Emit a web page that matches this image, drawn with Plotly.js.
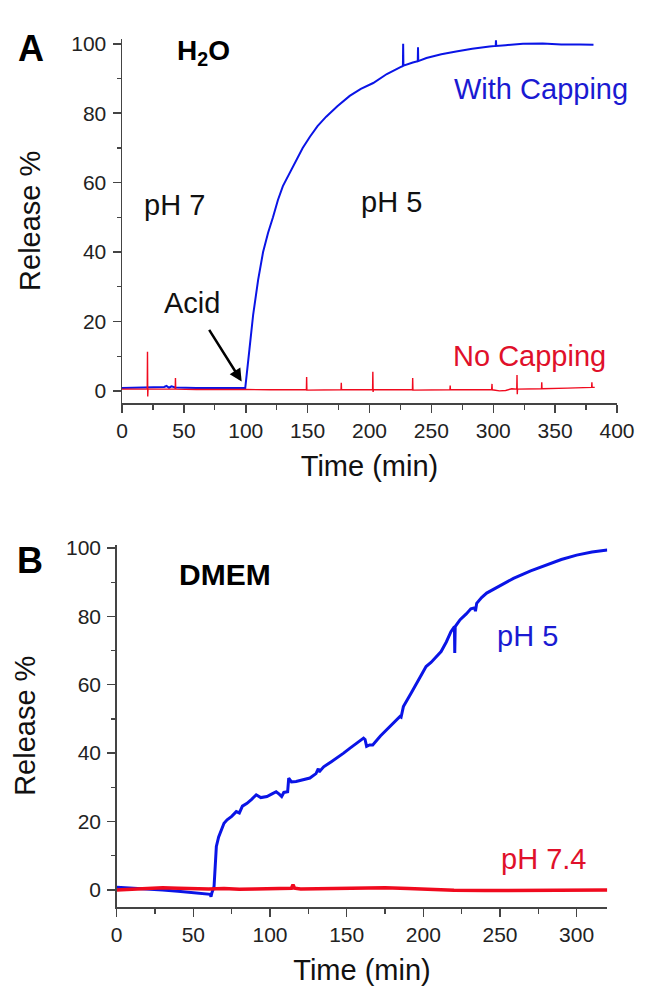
<!DOCTYPE html>
<html>
<head>
<meta charset="utf-8">
<script src="https://cdn.plot.ly/plotly-3.0.1.min.js"></script>
<style>html,body{margin:0;padding:0;background:#fff;}#chart{width:650px;height:1002px;}</style>
</head>
<body>
<div id="chart"></div>
<script>
// ---------- Panel A (H2O) ----------
var timeA_with = [0,10,20,34,36,38,40,43,60,80,99,99.5,101,103,106,110,114,118,122,126,130,135,141,146,152,158,165,174,184,193,203,214,225,227,227.2,227.4,235,239,239.2,239.4,246,258,270,283,297,302,302.2,302.4,310,324,340,355,370,381];
var releaseA_with = [0.8,0.9,0.8,1.1,1.4,0.9,1.3,1.0,0.8,0.9,0.8,0.5,5,12,22,32,40,45.5,50,55,59,62.5,66.5,70,73.3,76.3,79,82,85,87,88.7,91.3,93.3,93.6,100,93.7,94.6,95,99,95,95.9,97,97.8,98.6,99.2,99.4,101,99.4,99.6,100,100.1,99.8,99.8,99.7];

var timeA_no = [0,10,20.4,20.6,20.8,21,30,43,43.2,43.4,60,80,100,120,149,149.2,149.4,177,177.2,177.4,202.5,202.7,202.9,203.1,234.7,234.9,235.1,265,265.2,265.4,298.7,299,299.2,305,310,315,319,319.2,319.4,319.6,339,339.2,339.4,360,375,379.5,379.7,379.9,382];
var releaseA_no = [0.5,0.5,0.5,11.3,-1.6,0.5,0.5,0.5,3.7,0.5,0.4,0.5,0.4,0.3,0.3,4,0.2,0.3,2.3,0.3,0.3,5.5,-0.3,0.3,0.3,3.7,0.2,0.3,1.5,0.3,0.3,2,0.3,0,0.1,0.6,0.5,4.6,-1,0.5,0.6,2.5,0.6,0.8,1.1,1.0,2.5,1.0,1.0];

// ---------- Panel B (DMEM) ----------
var timeB_pH5 = [0,10,20,30,40,50,58,61,61.5,62,63.5,64.5,65,66.5,68,70,72,75,78,80,82,85,88,91,94,98,101,104,106,107.6,109,111.5,112.2,114,117,122,126,130,131.5,132,135,140,143.5,148,152,157,161,162,163,165,167,172,178,184.8,185.5,187,192,197,201.8,205,208,211.6,215,218,220.3,220.5,220.8,224,228,231,233.5,234,234.8,238,241.3,250,258.8,270,280.5,290,300,310,320];
var releaseB_pH5 = [0.8,0.6,0.3,0,-0.4,-0.8,-1.1,-1.3,-2,-1,1,8,12.7,15.5,17.5,19.5,20.5,21.5,22.9,22.5,24.5,25.3,26.5,27.8,27,27.3,28,28.7,28,27.3,28.5,28.7,32.7,31.6,31.7,32.2,32.7,34,35.5,34.5,36,37.5,38.5,40,41.4,43,44.4,44,42,42.4,42.4,45,47.7,50.7,50.5,53.6,57.5,61.5,65.3,66.5,68,69.7,72.5,75.5,77,69.3,77,79,80.7,82.2,82.5,81.5,83.8,85.5,86.8,89,91.1,93.3,95,96.6,97.9,98.8,99.4];

var timeB_pH74 = [0,10,20,30,40,50,60,70,80,90,100,110,114,115,116,120,140,160,175,190,200,220,240,260,280,300,320];
var releaseB_pH74 = [0,0.2,0.3,0.6,0.5,0.3,0.3,0.4,0.2,0.3,0.4,0.3,0.5,1.5,0.5,0.3,0.4,0.3,0.6,0.4,0.2,-0.1,-0.2,-0.1,0,0,0];

var ticksA_x = [0,50,100,150,200,250,300,350,400];
var ticksB_x = [0,50,100,150,200,250,300];
var ticksY = [0,20,40,60,80,100];

// ---------- style ----------
var W = 650, H = 1002;
function px(x){return x/W;}
function py(y){return 1 - y/H;}
var FONT = 'Liberation Sans, Arial, sans-serif';
var BLUE = '#0a14e6', RED = '#f00a1e';

var traces = [
  {x: timeA_with, y: releaseA_with, xaxis:'x', yaxis:'y', mode:'lines', line:{color:BLUE, width:2}, hoverinfo:'skip'},
  {x: timeA_no, y: releaseA_no, xaxis:'x', yaxis:'y', mode:'lines', line:{color:RED, width:1.4}, hoverinfo:'skip'},
  {x: timeB_pH5, y: releaseB_pH5, xaxis:'x2', yaxis:'y2', mode:'lines', line:{color:BLUE, width:3}, hoverinfo:'skip'},
  {x: timeB_pH74, y: releaseB_pH74, xaxis:'x2', yaxis:'y2', mode:'lines', line:{color:RED, width:3.5}, hoverinfo:'skip'}
];

function xax(domain, range, ticks, anchor){
  return {domain: domain, range: range, anchor: anchor, tickvals: ticks, ticks:'outside', ticklen:8, tickwidth:1.5, tickcolor:'#444',
    showline:true, linecolor:'#444', linewidth:1.5, showgrid:false, zeroline:false,
    minor:{ticks:'outside', ticklen:5, tickwidth:1.2, tickcolor:'#444', dtick:25, showgrid:false},
    tickfont:{family:FONT, size:21, color:'#222'},
    title:{text:'Time (min)', font:{family:FONT, size:29, color:'#111'}, standoff:15}};
}
function yax(domain, range, anchor){
  return {domain: domain, range: range, anchor: anchor, tickvals: ticksY, ticks:'outside', ticklen:8, tickwidth:1.5, tickcolor:'#444',
    showline:true, linecolor:'#444', linewidth:1.5, showgrid:false, zeroline:false,
    minor:{ticks:'outside', ticklen:4, tickwidth:1.2, tickcolor:'#444', dtick:10, showgrid:false},
    tickfont:{family:FONT, size:21, color:'#222'}, ticklabelstandoff:2,
    title:{text:'Release %', font:{family:FONT, size:29, color:'#111'}, standoff:22}};
}

function txt(x, y, s, size, color, bold){
  return {xref:'paper', yref:'paper', x:px(x), y:py(y), xanchor:'center', yanchor:'middle', showarrow:false,
    text: bold ? '<b>'+s+'</b>' : s, font:{family:FONT, size:size, color:color}};
}

var layout = {
  width: W, height: H, margin:{l:0,r:0,t:0,b:0}, paper_bgcolor:'#fff', plot_bgcolor:'#fff', showlegend:false,
  xaxis: xax([px(122), px(617)], [0,400], ticksA_x, 'y'),
  yaxis: yax([py(403), py(38.6)], [-3.5,101.5], 'x'),
  xaxis2: xax([px(116.7), px(607.3)], [0,320], ticksB_x, 'y2'),
  yaxis2: yax([py(907), py(544.5)], [-5,101], 'x2'),
  annotations: [
    txt(31, 48, 'A', 36, '#000', true),
    txt(203, 52, 'H<sub>2</sub>O', 28, '#000', true),
    txt(541, 89, 'With Capping', 29, '#1a1ad2', false),
    txt(174, 205, 'pH 7', 29, '#111', false),
    txt(391, 202, 'pH 5', 29, '#111', false),
    txt(192, 303, 'Acid', 29, '#111', false),
    txt(529, 356, 'No Capping', 29, '#e0102a', false),
    {xref:'x', yref:'y', axref:'x', ayref:'y', x:96.7, y:2.7, ax:69.7, ay:18, text:'', showarrow:true,
      arrowhead:2, arrowsize:1, arrowwidth:2.5, arrowcolor:'#000'},
    txt(30, 560, 'B', 36, '#000', true),
    txt(225, 574, 'DMEM', 30, '#000', true),
    txt(527, 636, 'pH 5', 29, '#1a1ad2', false),
    txt(543, 859, 'pH 7.4', 29, '#e0102a', false)
  ]
};

Plotly.newPlot('chart', traces, layout, {staticPlot:true, displayModeBar:false});
</script>
</body>
</html>
